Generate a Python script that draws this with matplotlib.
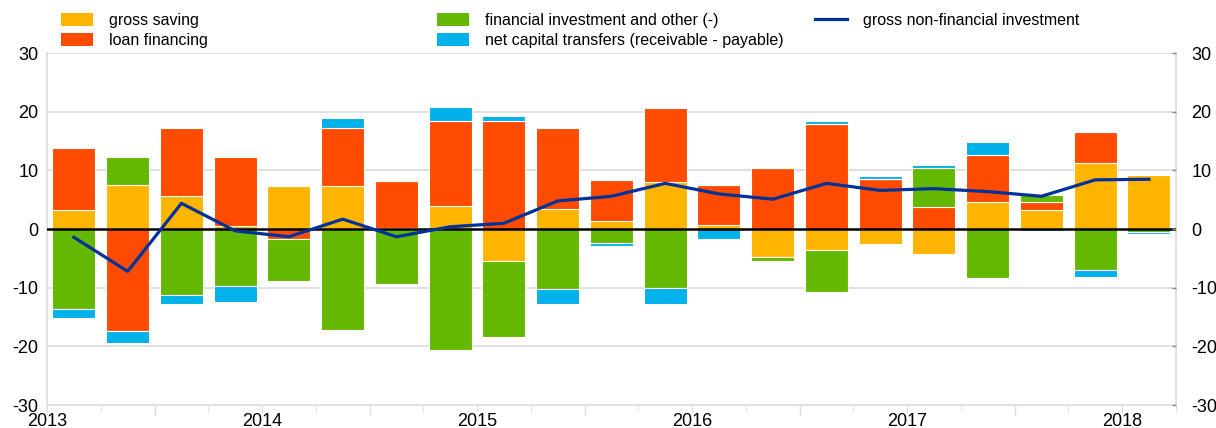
import numpy as np
import matplotlib
matplotlib.use("Agg")
import matplotlib.pyplot as plt
from matplotlib.patches import Patch
from matplotlib.lines import Line2D

plt.rcParams['font.family'] = ['Liberation Sans', 'DejaVu Sans']

# quarterly data, 2013Q1 .. 2018Q1
years = ['2013', '2014', '2015', '2016', '2017', '2018']
gross_saving = [3.2, 7.5, 5.7, 0.5, 7.3, 7.3, 0.2, 3.9, -5.5, 3.4, 1.3,
                8.0, 0.7, -4.7, -3.6, -2.6, -4.2, 4.6, 3.2, 11.2, 9.3]
loan_financing = [10.6, -17.3, 11.5, 11.8, -1.7, 10.0, 8.0, 14.6, 18.5, 13.9, 7.0,
                  12.6, 6.9, 10.4, 18.0, 8.6, 3.8, 8.1, 1.4, 5.3, 0.0]
financial_inv = [-13.6, 4.8, -11.2, -9.7, -7.2, -17.2, -9.4, -20.6, -12.9, -10.2, -2.4,
                 -10.0, 0.0, -0.8, -7.1, 0.0, 6.7, -8.4, 1.3, -7.0, -0.5]
capital_transfers = [-1.5, -2.1, -1.5, -2.8, 0.0, 1.6, 0.0, 2.3, 0.8, -2.5, -0.4,
                     -2.8, -1.7, 0.0, 0.4, 0.5, 0.4, 2.2, -0.3, -1.1, -0.3]
nonfin_investment = [-1.4, -7.2, 4.4, -0.3, -1.3, 1.7, -1.3, 0.4, 1.0, 4.8, 5.6,
                     7.8, 6.0, 5.1, 7.8, 6.6, 6.9, 6.4, 5.6, 8.4, 8.5]

series = [
    ('gross saving', gross_saving, '#FFB400'),
    ('loan financing', loan_financing, '#FF4B00'),
    ('financial investment and other (-)', financial_inv, '#65B800'),
    ('net capital transfers (receivable - payable)', capital_transfers, '#00B1EA'),
]
line_color = '#003299'
grid_color = '#DCDCDC'

n = len(gross_saving)
x = np.arange(n)

fig = plt.figure(figsize=(12.16, 4.28), dpi=100)
ax = fig.add_axes([0.0387, 0.0537, 0.9283, 0.822])

# stacked bars, positives up and negatives down from zero
pos_base = np.zeros(n)
neg_base = np.zeros(n)
for label, vals, color in series:
    v = np.array(vals)
    base = np.where(v >= 0, pos_base, neg_base)
    ax.bar(x, v, bottom=base, width=0.8, color=color, edgecolor='white',
           linewidth=0.8, zorder=2)
    pos_base += np.where(v >= 0, v, 0)
    neg_base += np.where(v < 0, v, 0)

ax.plot(x, nonfin_investment, color=line_color, linewidth=2.3, zorder=4)
ax.axhline(0, color='black', linewidth=1.8, zorder=3)

ax.set_xlim(-0.5, n - 0.5)
ax.set_ylim(-30, 30)
yticks = np.arange(-30, 31, 10)
ytick_labels = [str(v) for v in yticks]  # plain hyphen minus
ax.set_yticks(yticks)
ax.set_yticklabels(ytick_labels)
for yv in [-20, -10, 10, 20, 30]:
    ax.axhline(yv, color=grid_color, linewidth=1.2, zorder=1)
ax.tick_params(axis='y', labelsize=13, length=0, pad=6)

# right-hand labels
ax2 = ax.twinx()
ax2.set_ylim(-30, 30)
ax2.set_yticks(yticks)
ax2.set_yticklabels(ytick_labels)
ax2.tick_params(axis='y', labelsize=13, length=3, width=1, color='#888888',
                direction='in', pad=11)
for s in ax2.spines.values():
    s.set_visible(False)

# year labels at year boundaries, small ticks at quarters (longer mid-year)
year_pos = np.arange(-0.5, n, 4)
ax.set_xticks(year_pos)
ax.set_xticklabels(years[:len(year_pos)])
ax.set_xticks(np.arange(-0.5, n, 1), minor=True)
ax.tick_params(axis='x', which='major', labelsize=13, length=5, color=grid_color, pad=1)
ax.tick_params(axis='x', which='minor', length=5, color=grid_color)
for xm in np.arange(1.5, n, 4):
    ax.plot([xm, xm], [0, -0.025], transform=ax.get_xaxis_transform(),
            color=grid_color, linewidth=1, clip_on=False)

ax.spines['top'].set_visible(False)
for s in ['left', 'right', 'bottom']:
    ax.spines[s].set_color(grid_color)
    ax.spines[s].set_linewidth(1.2)

# legend, three columns
handles = [Patch(facecolor=c, edgecolor='none') for _, _, c in series]
labels = [lab for lab, _, _ in series]
leg_kw = dict(frameon=False, fontsize=11.5, handlelength=2.0, handleheight=0.9,
              handletextpad=1.0, labelspacing=0.3, loc='upper left', borderaxespad=0)
fig.legend(handles[:2], labels[:2], bbox_to_anchor=(0.045, 0.985), **leg_kw)
fig.legend(handles[2:], labels[2:], bbox_to_anchor=(0.354, 0.985), **leg_kw)
fig.legend([Line2D([0], [0], color=line_color, linewidth=2.3)],
           ['gross non-financial investment'], bbox_to_anchor=(0.665, 0.985), **leg_kw)

fig.savefig('out.png', dpi=100)
